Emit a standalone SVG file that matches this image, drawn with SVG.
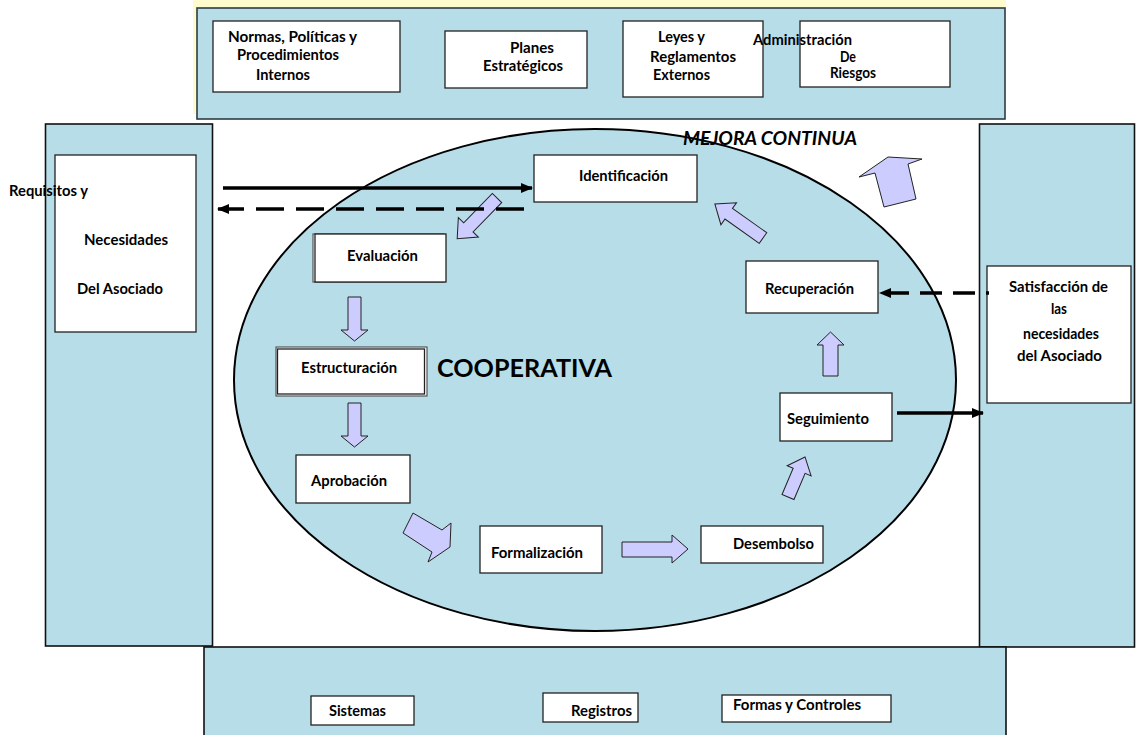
<svg xmlns="http://www.w3.org/2000/svg" width="1136" height="735" viewBox="0 0 1136 735">
  <style>
    .panel { fill: #B7DDE8; stroke: #111; stroke-width: 1.6; }
    .topbar { fill: #B7DDE8; stroke: #2c3c42; stroke-width: 1.6; }
    .box { fill: #fff; stroke: #222; stroke-width: 1.3; }
    .boxback { fill: #fff; stroke: #555; stroke-width: 1.2; }
    .lbl { font-family: Lato, "Liberation Sans", sans-serif; font-weight: bold; font-size: 15px; fill: #000; }
    .big { font-size: 25px; }
    .title { font-size: 19px; font-style: italic; }
    .blk { fill: #CCCCFF; stroke: #222; stroke-width: 1; stroke-linejoin: miter; }
    .con { fill: none; stroke: #000; stroke-width: 3.5; }
  </style>
  <defs>
    <marker id="head" viewBox="0 0 12 10" refX="11" refY="5" markerWidth="12" markerHeight="10" markerUnits="userSpaceOnUse" orient="auto">
      <path d="M0,0 L12,5 L0,10 Z" fill="#000"/>
    </marker>
  </defs>

  <!-- frame: top bar with pale backing, side panels, bottom bar -->
  <g id="frame">
    <rect x="193" y="0" width="813" height="114" fill="#FFFBCC"/>
    <rect class="topbar" x="197" y="8" width="808" height="111"/>
    <rect class="panel" x="45.5" y="124" width="167" height="522"/>
    <rect class="panel" x="979.5" y="124" width="155" height="523"/>
    <rect class="panel" x="204" y="647" width="802" height="90"/>
  </g>

  <!-- central ellipse -->
  <g id="cooperativa">
    <ellipse cx="595" cy="380" rx="361" ry="251" fill="#B7DDE8" stroke="#000" stroke-width="2"/>
    <text class="lbl big" x="437" y="377" textLength="175" lengthAdjust="spacingAndGlyphs">COOPERATIVA</text>
  </g>

  <!-- top bar boxes -->
  <g id="normas">
    <rect class="box" x="213" y="21" width="187" height="71"/>
    <text class="lbl" x="228" y="42" textLength="129" lengthAdjust="spacingAndGlyphs">Normas, Políticas y</text>
    <text class="lbl" x="237" y="60" textLength="102" lengthAdjust="spacingAndGlyphs">Procedimientos</text>
    <text class="lbl" x="256" y="80" textLength="54" lengthAdjust="spacingAndGlyphs">Internos</text>
  </g>
  <g id="planes">
    <rect class="box" x="445" y="31" width="142" height="57"/>
    <text class="lbl" x="510" y="53" textLength="44" lengthAdjust="spacingAndGlyphs">Planes</text>
    <text class="lbl" x="483" y="71" textLength="80" lengthAdjust="spacingAndGlyphs">Estratégicos</text>
  </g>
  <g id="leyes">
    <rect class="box" x="623" y="21" width="140" height="76"/>
    <text class="lbl" x="658" y="42" textLength="47" lengthAdjust="spacingAndGlyphs">Leyes y</text>
    <text class="lbl" x="650" y="62" textLength="86" lengthAdjust="spacingAndGlyphs">Reglamentos</text>
    <text class="lbl" x="653" y="80" textLength="57" lengthAdjust="spacingAndGlyphs">Externos</text>
  </g>
  <g id="riesgos">
    <rect class="box" x="800" y="21" width="150" height="66"/>
    <text class="lbl" x="753" y="45" textLength="99" lengthAdjust="spacingAndGlyphs">Administración</text>
    <text class="lbl" x="840" y="62" textLength="16" lengthAdjust="spacingAndGlyphs">De</text>
    <text class="lbl" x="830" y="78" textLength="46" lengthAdjust="spacingAndGlyphs">Riesgos</text>
  </g>

  <!-- side boxes -->
  <g id="requisitos">
    <rect class="box" x="55" y="155" width="141" height="177"/>
    <text class="lbl" x="9" y="196" textLength="79" lengthAdjust="spacingAndGlyphs">Requisitos y</text>
    <text class="lbl" x="84" y="245" textLength="84" lengthAdjust="spacingAndGlyphs">Necesidades</text>
    <text class="lbl" x="77" y="294" textLength="86" lengthAdjust="spacingAndGlyphs">Del Asociado</text>
  </g>
  <g id="satisfaccion">
    <rect class="box" x="987" y="266" width="144" height="137"/>
    <text class="lbl" x="1009" y="292" textLength="99" lengthAdjust="spacingAndGlyphs">Satisfacción de</text>
    <text class="lbl" x="1051" y="314" textLength="16" lengthAdjust="spacingAndGlyphs">las</text>
    <text class="lbl" x="1023" y="339" textLength="76" lengthAdjust="spacingAndGlyphs">necesidades</text>
    <text class="lbl" x="1017" y="361" textLength="85" lengthAdjust="spacingAndGlyphs">del Asociado</text>
  </g>

  <!-- process steps -->
  <g id="identificacion">
    <rect class="box" x="534" y="155" width="163" height="47"/>
    <text class="lbl" x="579" y="181" textLength="89" lengthAdjust="spacingAndGlyphs">Identificación</text>
  </g>
  <g id="evaluacion">
    <rect class="boxback" x="313" y="234" width="131" height="48"/>
    <rect class="box" x="315" y="234" width="131" height="48"/>
    <text class="lbl" x="347" y="261" textLength="71" lengthAdjust="spacingAndGlyphs">Evaluación</text>
  </g>
  <g id="estructuracion">
    <rect class="boxback" x="276" y="347" width="151" height="49"/>
    <rect class="box" x="277.5" y="349" width="147" height="45"/>
    <text class="lbl" x="301" y="373" textLength="96" lengthAdjust="spacingAndGlyphs">Estructuración</text>
  </g>
  <g id="aprobacion">
    <rect class="box" x="296" y="455" width="114" height="48"/>
    <text class="lbl" x="311" y="486" textLength="76" lengthAdjust="spacingAndGlyphs">Aprobación</text>
  </g>
  <g id="formalizacion">
    <rect class="box" x="480" y="526" width="122" height="47"/>
    <text class="lbl" x="491" y="558" textLength="92" lengthAdjust="spacingAndGlyphs">Formalización</text>
  </g>
  <g id="desembolso">
    <rect class="box" x="701" y="526" width="122" height="37"/>
    <text class="lbl" x="733" y="549" textLength="81" lengthAdjust="spacingAndGlyphs">Desembolso</text>
  </g>
  <g id="seguimiento">
    <rect class="box" x="780" y="393" width="112" height="48"/>
    <text class="lbl" x="787" y="424" textLength="82" lengthAdjust="spacingAndGlyphs">Seguimiento</text>
  </g>
  <g id="recuperacion">
    <rect class="box" x="746" y="261" width="132" height="52"/>
    <text class="lbl" x="765" y="294" textLength="89" lengthAdjust="spacingAndGlyphs">Recuperación</text>
  </g>

  <!-- bottom bar boxes -->
  <g id="sistemas">
    <rect class="box" x="311" y="696" width="103" height="29"/>
    <text class="lbl" x="329" y="716" textLength="57" lengthAdjust="spacingAndGlyphs">Sistemas</text>
  </g>
  <g id="registros">
    <rect class="box" x="543" y="693" width="95" height="29"/>
    <text class="lbl" x="571" y="716" textLength="61" lengthAdjust="spacingAndGlyphs">Registros</text>
  </g>
  <g id="formas">
    <rect class="box" x="722" y="695" width="169" height="27"/>
    <text class="lbl" x="733" y="710" textLength="128" lengthAdjust="spacingAndGlyphs">Formas y Controles</text>
  </g>

  <!-- cycle label -->
  <g id="mejora">
    <text class="lbl title" x="683" y="145" textLength="174" lengthAdjust="spacingAndGlyphs">MEJORA CONTINUA</text>
  </g>

  <!-- connectors -->
  <g id="connectors">
    <!-- block arrows of the cycle -->
    <polygon class="blk" points="0,-6.5 41,-6.5 41,-14 57,0 41,14 41,6.5 0,6.5" transform="translate(497,198) rotate(134.3)"/>
    <polygon class="blk" points="348,297 361,297 361,330 368,330 354.5,341 341,330 348,330"/>
    <polygon class="blk" points="348,403 361,403 361,436 368,436 354.5,447 341,436 348,436"/>
    <polygon class="blk" points="413,513 442,530 451,523 450,547 428,562 432,552 403,533"/>
    <polygon class="blk" points="622,542 672,542 672,535 688,549 672,563 672,557 622,557"/>
    <polygon class="blk" points="0,-6.5 28.5,-6.5 28.5,-13 43.5,0 28.5,13 28.5,6.5 0,6.5" transform="translate(788,497) rotate(-67)"/>
    <polygon class="blk" points="823,376 838,376 838,345 844,345 830.5,332 817,345 823,345"/>
    <polygon class="blk" points="0,-6.5 42,-6.5 42,-13.5 59,0 42,13.5 42,6.5 0,6.5" transform="translate(763,238) rotate(215.3)"/>
    <polygon class="blk" points="875,173 859,177 888,157 922,159 908,164 916,199 884,207"/>

    <!-- flow lines -->
    <path class="con" d="M223,188 H532" marker-end="url(#head)"/>
    <path class="con" d="M524,209 H218" stroke-dasharray="28 12" marker-end="url(#head)"/>
    <path class="con" d="M989,293 H880" stroke-dasharray="22 11" stroke-dashoffset="19" marker-end="url(#head)"/>
    <path class="con" d="M897,413 H983" marker-end="url(#head)"/>
  </g>
</svg>
